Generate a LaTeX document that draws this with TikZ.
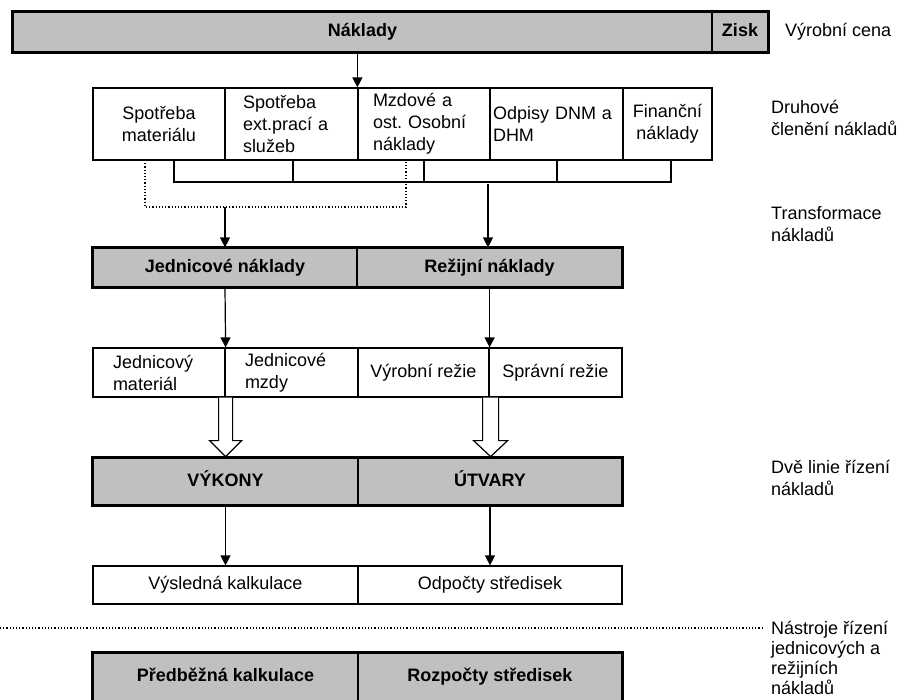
\documentclass[tikz,border=0pt]{standalone}
\usepackage{fontspec}
\setmainfont{Liberation Sans}
\usetikzlibrary{arrows.meta,calc}
\definecolor{barfill}{HTML}{C0C0C0}
\newcommand\fsz{\fontsize{18}{22}\selectfont\frenchspacing\hyphenpenalty=10000 }
\newcommand\fszb{\fontsize{18}{20}\selectfont\frenchspacing}
\begin{document}
\begin{tikzpicture}[x=1pt,y=-1pt,
  box/.style={draw, line width=1.2pt, inner sep=0pt, font=\fsz, align=center},
  lbox/.style={box, align=left},
  one/.style={text height=13pt, text depth=4pt},
  bbox/.style={box, one, fill=barfill, font=\fsz\bfseries},
  outline/.style={line width=3pt},
  thinline/.style={line width=1.2pt},
  dotline/.style={line width=1.2pt, dotted},
  arr/.style={line width=1.2pt, -{Triangle[width=10pt,length=10pt]}},
  hollow/.style={line width=1.2pt, fill=white},
  lab/.style={anchor=west, align=left, font=\fsz, inner sep=0pt}]
\useasboundingbox (0,0) rectangle (905,699);

% top bar
\node[bbox, minimum width=699pt, minimum height=40pt] (nak) at (362.5,32) {Náklady};
\node[bbox, minimum width=56pt, minimum height=40pt] (zisk) at (740,32) {Zisk};
\draw[outline] (nak.north west) rectangle (zisk.south east);

% druhove cleneni
\node[box, minimum width=132pt, minimum height=72pt] (c1) at (159,124) {Spotřeba\\materiálu};
\node[lbox, text width=97pt, inner xsep=18pt, minimum height=72pt] (c2) at (291.5,124) {Spotřeba\\ext.prací a\\služeb};
\node[lbox, text width=102pt, inner xsep=15pt, minimum height=72pt] (c3) at (424,124) {Mzdové a\\ost. Osobní\\náklady};
\node[lbox, text width=127pt, inner xsep=3pt, minimum height=72pt] (c4) at (556.5,124) {Odpisy DNM a\\DHM};
\node[box, minimum width=89pt, minimum height=72pt] (c5) at (667.5,124) {Finanční\\náklady};

\draw[arr] (nak.south -| c3.west) -- (c3.north west);

% bracket
\draw[thinline] (174,160) -- (174,182) -- (671,182) -- (671,160);
\draw[thinline] (293,160) -- (293,182);
\draw[thinline] (424,160) -- (424,182);
\draw[thinline] (557,160) -- (557,182);
% dotted group
\draw[dotline] (145,160) -- (145,207) -- (406,207) -- (406,160);
\coordinate (dj) at (225,207);
\coordinate (br) at (488,184);

% jednicove / rezijni
\node[bbox, minimum width=264pt, minimum height=39pt] (jed) at (225,267.5) {Jednicové náklady};
\node[bbox, minimum width=265pt, minimum height=39pt] (rez) at (489.5,267.5) {Režijní náklady};
\draw[outline] (jed.north west) rectangle (rez.south east);

\draw[arr] (dj) -- (jed.north);
\draw[arr] (br) -- (br |- rez.north);

% row 4
\node[lbox, text width=92pt, inner xsep=20pt, minimum height=49pt] (d1) at (159,372.5) {Jednicový\\materiál};
\node[lbox, text width=93pt, inner xsep=20pt, minimum height=49pt] (d2) at (291.5,372.5) {Jednicové\\mzdy};
\node[box, one, minimum width=131pt, minimum height=49pt] (d3) at (423.5,372.5) {Výrobní režie};
\node[box, one, minimum width=133pt, minimum height=49pt] (d4) at (555.5,372.5) {Správní režie};

\draw[arr] (jed.south) -- (d1.north east);
\draw[arr] (rez.south -| d3.east) -- (d3.north east);

% vykony / utvary
\node[bbox, minimum width=265pt, minimum height=47pt] (vyk) at (225.5,481.5) {VÝKONY};
\node[bbox, minimum width=264pt, minimum height=47pt] (utv) at (490,481.5) {ÚTVARY};
\draw[outline] (vyk.north west) rectangle (utv.south east);

% hollow arrows
\draw[hollow] (d1.south east) ++(-7,0) -- ++(0,43) -- ++(-9,0) -- ++(16,16) -- ++(16,-16) -- ++(-9,0) -- ++(0,-43);
\draw[hollow] (d3.south east) ++(-7,0) -- ++(0,43) -- ++(-9,0) -- ++(17,16) -- ++(17,-16) -- ++(-9,0) -- ++(0,-43);

% vysledna
\node[box, one, minimum width=265pt, minimum height=38pt] (v1) at (225.5,585) {Výsledná kalkulace};
\node[box, one, minimum width=264pt, minimum height=38pt] (v2) at (490,585) {Odpočty středisek};
\draw[arr] (vyk.south) -- (v1.north);
\draw[arr] (utv.south) -- (v2.north);

% separator
\draw[dotline] (0,628) -- (763,628);

% predbezna
\node[bbox, minimum width=265pt, minimum height=48pt] (p1) at (225.5,677) {Předběžná kalkulace};
\node[bbox, minimum width=264pt, minimum height=48pt] (p2) at (490,677) {Rozpočty středisek};
\draw[outline] (p1.north west) rectangle (p2.south east);

% right labels
\node[lab, one] (l1) at (785,32) {Výrobní cena};
\node[lab] (l2) at (771,117.5) {Druhové\\členění nákladů};
\node[lab] (l3) at (771,224) {Transformace\\nákladů};
\node[lab] (l4) at (771,477.5) {Dvě linie řízení\\nákladů};
\node[lab, font=\fszb] (l5) at (771,657.5) {Nástroje řízení\\jednicových a\\režijních\\nákladů};
\end{tikzpicture}
\end{document}
